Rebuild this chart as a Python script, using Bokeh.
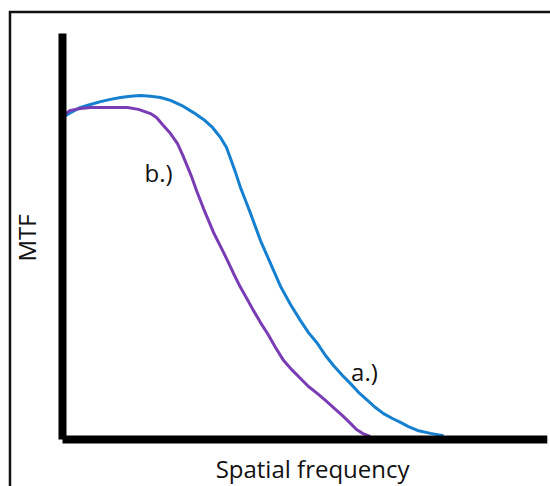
from bokeh.plotting import figure
from bokeh.models import Range1d, Label
from bokeh.embed import file_html
from bokeh.resources import INLINE

# Curve a.) (blue)
freq_a = [0, 1.67, 3.75, 5.83, 7.92, 10.0, 12.08, 14.17, 16.25, 18.33, 20.42, 22.5, 25.21,
          27.29, 29.38, 31.25, 32.92, 34.17, 35.0, 36.04, 37.08, 38.13, 39.17, 41.25, 43.33,
          45.42, 47.5, 49.58, 51.25, 53.13, 54.79, 56.46, 58.33, 60.0, 61.67, 63.54, 65.21,
          66.88, 68.75, 70.42, 72.08, 73.96, 76.67, 79.38]
mtf_a = [0.997, 1.012, 1.028, 1.037, 1.046, 1.053, 1.059, 1.063, 1.065, 1.063, 1.059, 1.050,
         1.031, 1.012, 0.991, 0.966, 0.935, 0.904, 0.870, 0.827, 0.780, 0.740, 0.700, 0.616,
         0.545, 0.474, 0.418, 0.368, 0.331, 0.297, 0.260, 0.229, 0.198, 0.173, 0.146, 0.121,
         0.099, 0.080, 0.065, 0.053, 0.040, 0.028, 0.019, 0.012]

# Curve b.) (purple)
freq_b = [0, 1.67, 3.75, 5.83, 10.0, 13.54, 15.83, 18.33, 19.58, 20.83, 22.5, 23.96, 25.0,
          26.04, 26.88, 27.92, 29.38, 31.46, 32.92, 34.38, 35.63, 37.08, 38.54, 39.79, 41.25,
          42.71, 44.38, 46.04, 47.71, 49.58, 51.25, 53.13, 54.79, 56.46, 58.33, 60.0, 61.25,
          62.5, 64.17]
mtf_b = [1.003, 1.019, 1.025, 1.028, 1.028, 1.028, 1.022, 1.009, 0.997, 0.975, 0.947, 0.916,
         0.882, 0.845, 0.814, 0.771, 0.715, 0.641, 0.598, 0.554, 0.514, 0.471, 0.433, 0.399,
         0.362, 0.328, 0.285, 0.245, 0.217, 0.189, 0.164, 0.142, 0.121, 0.099, 0.074, 0.050,
         0.031, 0.019, 0.009]

x_label = "Spatial frequency"
y_label = "MTF"
curve_labels = ["a.)", "b.)"]

X_AXIS_END = 101
Y_AXIS_END = 1.257

p = figure(width=550, height=486, output_backend="svg", toolbar_location=None,
           x_range=Range1d(-12.917, 101.667), y_range=Range1d(-0.1455, 1.3591),
           x_axis_location=None, y_axis_location=None,
           min_border=0, min_border_left=0, min_border_right=0,
           min_border_top=0, min_border_bottom=0)
p.grid.visible = False
p.outline_line_color = None
p.background_fill_color = "white"
p.border_fill_color = "white"

# picture frame (left and top edges visible)
p.line([-10.94, -10.94, 103], [-0.2, 1.3235, 1.3235], line_color="#111111",
       line_width=2.5, line_join="miter")

p.line(freq_a, mtf_a, line_color="#1580cf", line_width=3, line_join="round")
p.line(freq_b, mtf_b, line_color="#7a3cb4", line_width=3, line_join="round")

# axes
p.line([0, 0], [0, Y_AXIS_END], line_color="black", line_width=8)
p.line([0, X_AXIS_END], [0, 0], line_color="black", line_width=8)

font = "Open Sans"
p.add_layout(Label(x=52.1, y=-0.089, text=x_label, text_align="center",
                   text_baseline="middle", text_font=font, text_font_size="24px",
                   text_color="#111111"))
p.add_layout(Label(x=-7.4, y=0.624, text=y_label, angle=1.5708, text_align="center",
                   text_baseline="middle", text_font=font, text_font_size="24px",
                   text_color="#111111"))
p.add_layout(Label(x=62.9, y=0.212, text=curve_labels[0], text_align="center",
                   text_baseline="middle", text_font=font, text_font_size="24px",
                   text_color="#111111"))
p.add_layout(Label(x=20.0, y=0.827, text=curve_labels[1], text_align="center",
                   text_baseline="middle", text_font=font, text_font_size="24px",
                   text_color="#111111"))

open("out.html", "w").write(file_html(p, INLINE))
